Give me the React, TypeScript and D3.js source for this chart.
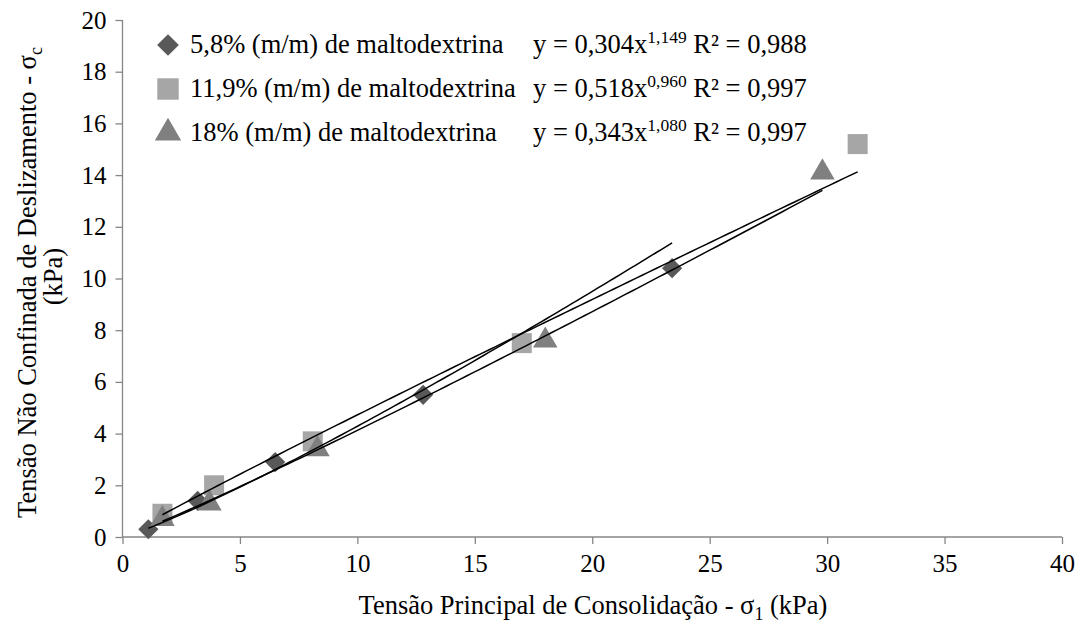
import React, { useEffect, useRef } from "react";
import * as d3 from "d3";

// Series names (legend)
const seriesNames = [
  "5,8% (m/m) de maltodextrina",
  "11,9% (m/m) de maltodextrina",
  "18% (m/m) de maltodextrina",
];

const x58 = [1.1, 3.2, 6.5, 12.8, 23.4];
const y58 = [0.3, 1.4, 2.9, 5.5, 10.4];
const x119 = [1.7, 3.9, 8.1, 17.0, 31.3];
const y119 = [0.9, 2.0, 3.7, 7.5, 15.2];
const x18 = [1.7, 3.7, 8.3, 18.0, 29.8];
const y18 = [0.7, 1.3, 3.4, 7.6, 14.1];

// Power trend lines y = a x^b
const coefA = [0.304, 0.518, 0.343];
const coefB = [1.149, 0.96, 1.08];
const rSquared = [0.988, 0.997, 0.997];

const xTicks = [0, 5, 10, 15, 20, 25, 30, 35, 40];
const yTicks = [0, 2, 4, 6, 8, 10, 12, 14, 16, 18, 20];

const colors = ["#595959", "#a6a6a6", "#808080"];
const shapes = [d3.symbolDiamond2, d3.symbolSquare, d3.symbolTriangle];

const FONT = "'Times New Roman', 'Liberation Serif', 'DejaVu Serif', serif";

export default function App() {
  const svgRef = useRef<SVGSVGElement>(null);

  useEffect(() => {
    const svg = d3.select(svgRef.current);
    svg.selectAll("*").remove();
    const width = 1083;
    const height = 625;
    const margin = { top: 20, right: 21, bottom: 88, left: 122.5 };

    const x = d3.scaleLinear().domain([0, 40]).range([margin.left, width - margin.right]);
    const y = d3.scaleLinear().domain([0, 20]).range([height - margin.bottom, margin.top]);

    const axisColor = "#868686";

    const gx = svg
      .append("g")
      .attr("transform", `translate(0,${height - margin.bottom})`)
      .call(d3.axisBottom(x).tickValues(xTicks).tickSize(7).tickPadding(10).tickFormat(d3.format("d")));
    const gy = svg
      .append("g")
      .attr("transform", `translate(${margin.left},0)`)
      .call(d3.axisLeft(y).tickValues(yTicks).tickSize(7).tickPadding(9).tickFormat(d3.format("d")));

    [gx, gy].forEach((g) => {
      g.attr("font-family", null).attr("font-size", null);
      g.selectAll("path").attr("stroke", axisColor).attr("stroke-width", 1.3);
      g.selectAll("line").attr("stroke", axisColor).attr("stroke-width", 1.3);
      g.selectAll("text").attr("fill", "#000").style("font-family", FONT).style("font-size", "25px");
    });
    gx.select(".domain").attr("d", `M${x(0)},0H${x(40)}`);
    gy.select(".domain").attr("d", `M0,${y(0)}V${y(20)}`);

    const data = [
      { xs: x58, ys: y58 },
      { xs: x119, ys: y119 },
      { xs: x18, ys: y18 },
    ];
    const sizes = [260, 400, 260];

    // markers
    data.forEach((s, i) => {
      const pts = s.xs.map((v, j) => [v, s.ys[j]]);
      svg
        .append("g")
        .selectAll("path")
        .data(pts)
        .enter()
        .append("path")
        .attr("transform", (d) => `translate(${x(d[0])},${y(d[1])})`)
        .attr("d", d3.symbol().type(shapes[i]).size(sizes[i])())
        .attr("fill", colors[i]);
    });

    // trend lines
    data.forEach((s, i) => {
      const x0 = d3.min(s.xs) as number;
      const x1 = d3.max(s.xs) as number;
      const xs = d3.range(0, 101).map((k) => x0 + ((x1 - x0) * k) / 100);
      const l = d3
        .line<number>()
        .x((d) => x(d))
        .y((d) => y(coefA[i] * Math.pow(d, coefB[i])));
      svg
        .append("path")
        .attr("d", l(xs))
        .attr("fill", "none")
        .attr("stroke", "#000")
        .attr("stroke-width", 1.5);
    });

    // legend
    const rowY = [45, 89, 133];
    const fmt = (v: number) => d3.format(".3f")(v).replace(".", ",");
    seriesNames.forEach((name, i) => {
      svg
        .append("path")
        .attr("transform", `translate(168,${rowY[i]})`)
        .attr("d", d3.symbol().type(shapes[i]).size(i === 1 ? 460 : 300)())
        .attr("fill", colors[i]);
      svg
        .append("text")
        .attr("x", 190)
        .attr("y", rowY[i] + 8)
        .style("font-family", FONT)
        .style("font-size", "26.5px")
        .text(name);
      const eq = svg
        .append("text")
        .attr("x", 533)
        .attr("y", rowY[i] + 8)
        .style("font-family", FONT)
        .style("font-size", "26.5px");
      eq.append("tspan").text(`y = ${fmt(coefA[i])}x`);
      eq.append("tspan")
        .attr("dy", -10)
        .style("font-size", "17.5px")
        .text(fmt(coefB[i]));
      eq.append("tspan").attr("dy", 10).text(` R² = ${fmt(rSquared[i])}`);
    });

    // axis titles
    const xt = svg
      .append("text")
      .attr("x", 593)
      .attr("y", 614)
      .attr("text-anchor", "middle")
      .style("font-family", FONT)
      .style("font-size", "26.5px");
    xt.append("tspan").text("Tensão Principal de Consolidação - σ");
    xt.append("tspan").attr("dy", 6).style("font-size", "18px").text("1");
    xt.append("tspan").attr("dy", -6).text(" (kPa)");

    const yt = svg
      .append("text")
      .attr("transform", `translate(36,${(y(0) + y(20)) / 2 + 4}) rotate(-90)`)
      .attr("text-anchor", "middle")
      .style("font-family", FONT)
      .style("font-size", "26.5px");
    yt.append("tspan").text("Tensão Não Confinada de Deslizamento - σ");
    yt.append("tspan").attr("dy", 6).style("font-size", "18px").text("c");

    svg
      .append("text")
      .attr("transform", `translate(62,${(y(0) + y(20)) / 2 - 2}) rotate(-90)`)
      .attr("text-anchor", "middle")
      .style("font-family", FONT)
      .style("font-size", "26.5px")
      .text("(kPa)");
  }, []);

  return (
    <svg
      ref={svgRef}
      width={1083}
      height={625}
      style={{ position: "absolute", left: 0, top: 0, background: "#fff", fontFamily: FONT }}
    />
  );
}
